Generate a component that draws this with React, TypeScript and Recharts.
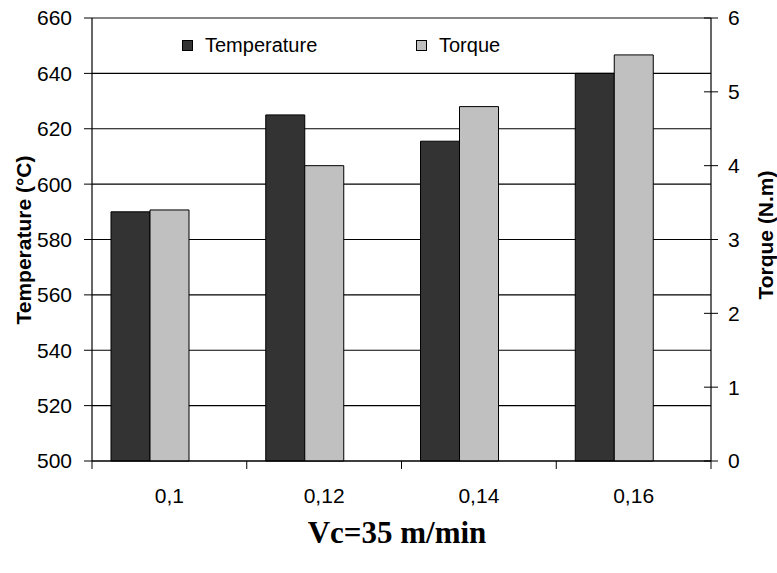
import { BarChart, Bar, XAxis, YAxis, CartesianGrid, Legend, ReferenceLine } from 'recharts';

// feed rate categories (Vc = 35 m/min)
const FEEDS = ['0,1', '0,12', '0,14', '0,16'];
const TEMPERATURE = [590, 625, 615.5, 640]; // °C
const TORQUE = [3.4, 4.0, 4.8, 5.5]; // N.m
const TEMP_TICKS = [500, 520, 540, 560, 580, 600, 620, 640, 660];
const TORQUE_TICKS = [0, 1, 2, 3, 4, 5, 6];

const data = FEEDS.map((feed, i) => ({
  feed,
  temperature: TEMPERATURE[i],
  torque: TORQUE[i],
  spacer: null, // empty slot so the pair sits left of the tick label, as in the original
}));

const W = 777;
const H = 573;
const PLOT_LEFT = 92;
const PLOT_RIGHT = 711;
const PLOT_TOP = 18;
const PLOT_BOTTOM = 461;
const BAND = (PLOT_RIGHT - PLOT_LEFT) / FEEDS.length;

const SANS = '"Liberation Sans", Arial, sans-serif';
const SERIF = '"Liberation Serif", "Times New Roman", serif';

const XTick = (props: any) => {
  const { x, payload, index } = props;
  const half = BAND / 2;
  return (
    <g>
      <line x1={x - half} y1={PLOT_BOTTOM} x2={x - half} y2={PLOT_BOTTOM + 8} stroke="#000" />
      {index === FEEDS.length - 1 && (
        <line x1={x + half} y1={PLOT_BOTTOM} x2={x + half} y2={PLOT_BOTTOM + 8} stroke="#000" />
      )}
      <text x={x} y={PLOT_BOTTOM + 42} textAnchor="middle" fill="#000" fontSize={21} fontFamily={SANS}>
        {payload.value}
      </text>
    </g>
  );
};

const RightTick = (props: any) => {
  const { y, payload } = props;
  return (
    <g>
      <line x1={PLOT_RIGHT - 7} y1={y} x2={PLOT_RIGHT + 7} y2={y} stroke="#000" />
      <text x={PLOT_RIGHT + 17} y={y} dy="0.355em" textAnchor="start" fill="#000" fontSize={21} fontFamily={SANS}>
        {payload.value}
      </text>
    </g>
  );
};

const LEGEND_X = [182, 416];

const renderLegend = (props: any) => {
  const items = (props.payload || []).filter((p: any) => p.type !== 'none');
  return (
    <div style={{ position: 'relative', width: 0, height: 0 }}>
      {items.map((item: any, i: number) => (
        <div
          key={item.value}
          style={{
            position: 'absolute',
            left: LEGEND_X[i],
            top: 32,
            display: 'flex',
            alignItems: 'center',
            whiteSpace: 'nowrap',
            fontFamily: SANS,
            fontSize: 20,
            color: '#000',
            lineHeight: '26px',
          }}
        >
          <span
            style={{
              display: 'inline-block',
              width: 9,
              height: 9,
              background: item.color,
              border: '1px solid #000',
              marginRight: 12,
            }}
          />
          {item.value}
        </div>
      ))}
    </div>
  );
};

export default function App() {
  return (
    <div style={{ position: 'relative', width: W, height: H }}>
      <style>{'body{margin:0}'}</style>
      <BarChart
        width={W}
        height={H}
        data={data}
        margin={{ top: PLOT_TOP, right: 0, bottom: H - PLOT_BOTTOM - 40, left: 0 }}
        barCategoryGap={19}
        barGap={0}
      >
        <CartesianGrid yAxisId="temp" vertical={false} stroke="#000" strokeWidth={1.2} />
        <ReferenceLine yAxisId="temp" y={660} stroke="#888" strokeWidth={1.5} />
        <XAxis
          dataKey="feed"
          height={40}
          axisLine={{ stroke: '#000', strokeWidth: 1.2 }}
          tickLine={false}
          tick={<XTick />}
          interval={0}
          label={{
            content: () => (
              <text x={397} y={543} textAnchor="middle" fill="#000" fontSize={31} fontWeight="bold" fontFamily={SERIF}>
                Vc=35 m/min
              </text>
            ),
          }}
        />
        <YAxis
          yAxisId="temp"
          width={PLOT_LEFT}
          domain={[500, 660]}
          ticks={TEMP_TICKS}
          interval={0}
          axisLine={{ stroke: '#000', strokeWidth: 1.2 }}
          tickLine={{ stroke: '#000' }}
          tickSize={8}
          tickMargin={12}
          tick={{ fill: '#000', fontSize: 21, fontFamily: SANS }}
          label={{
            content: () => (
              <text
                x={23}
                y={240}
                transform="rotate(-90, 23, 240)"
                textAnchor="middle"
                dominantBaseline="central"
                fill="#000"
                fontSize={21}
                fontWeight="bold"
                fontFamily={SANS}
              >
                Temperature (°C)
              </text>
            ),
          }}
        />
        <YAxis
          yAxisId="torque"
          orientation="right"
          width={W - PLOT_RIGHT}
          domain={[0, 6]}
          ticks={TORQUE_TICKS}
          interval={0}
          axisLine={{ stroke: '#000', strokeWidth: 1.2 }}
          tickLine={false}
          tick={<RightTick />}
          label={{
            content: () => (
              <text
                x={765}
                y={235}
                transform="rotate(-90, 765, 235)"
                textAnchor="middle"
                dominantBaseline="central"
                fill="#000"
                fontSize={21}
                fontWeight="bold"
                fontFamily={SANS}
              >
                Torque (N.m)
              </text>
            ),
          }}
        />
        <Legend
          verticalAlign="top"
          align="left"
          content={renderLegend}
          wrapperStyle={{ top: 0, left: 0, width: 0, height: 0 }}
        />
        <Bar yAxisId="temp" dataKey="temperature" name="Temperature" fill="#333333" stroke="#000" strokeWidth={1} isAnimationActive={false} />
        <Bar yAxisId="torque" dataKey="torque" name="Torque" fill="#c0c0c0" stroke="#000" strokeWidth={1} isAnimationActive={false} />
        <Bar yAxisId="temp" dataKey="spacer" legendType="none" fill="none" isAnimationActive={false} />
      </BarChart>
    </div>
  );
}
